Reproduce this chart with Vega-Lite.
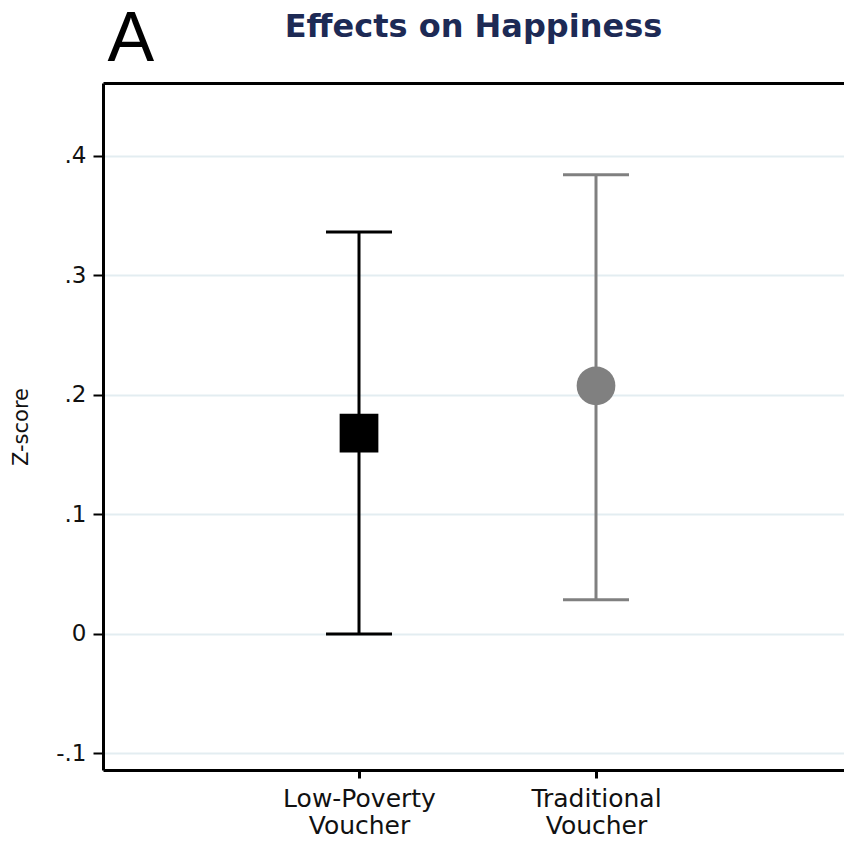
{
  "$schema": "https://vega.github.io/schema/vega-lite/v6.json",
  "autosize": {"type": "none"},
  "width": 741,
  "height": 687,
  "padding": {"left": 103, "top": 83, "right": 0, "bottom": 71},
  "background": "white",
  "config": {"view": {"stroke": null}, "font": "DejaVu Sans"},
  "title": {
    "text": "Effects on Happiness",
    "fontSize": 32,
    "fontWeight": "bold",
    "color": "#1d2a55",
    "anchor": "middle",
    "frame": "group",
    "offset": -40
  },
  "data": {
    "values": [
      {"group": "Low-Poverty Voucher", "pos": 1, "estimate": 0.168, "lower": 0.0, "upper": 0.336},
      {"group": "Traditional Voucher", "pos": 2, "estimate": 0.2075, "lower": 0.0285, "upper": 0.384}
    ]
  },
  "resolve": {"axis": {"x": "independent"}},
  "encoding": {
    "color": {
      "field": "group",
      "type": "nominal",
      "scale": {"domain": ["Low-Poverty Voucher", "Traditional Voucher"], "range": ["#000000", "#808080"]},
      "legend": null
    }
  },
  "layer": [
    {
      "mark": {"type": "rule", "strokeWidth": 3},
      "encoding": {
        "x": {
          "field": "pos",
          "type": "quantitative",
          "scale": {"domain": [-0.0802, 3.0464], "nice": false, "zero": false},
          "axis": {
            "orient": "bottom",
            "values": [1, 2],
            "labelExpr": "datum.value == 1 ? ['Low-Poverty', 'Voucher'] : ['Traditional', 'Voucher']",
            "title": null,
            "grid": false,
            "domainColor": "#000000",
            "domainWidth": 3,
            "tickColor": "#000000",
            "tickWidth": 3,
            "tickSize": 8,
            "labelFontSize": 25,
            "labelLineHeight": 27,
            "labelColor": "#111111",
            "labelPadding": 8
          }
        },
        "y": {
          "field": "lower",
          "type": "quantitative",
          "scale": {"domain": [-0.1138, 0.4607], "nice": false, "zero": false},
          "axis": {
            "values": [-0.1, 0, 0.1, 0.2, 0.3, 0.4],
            "labelExpr": "datum.value == 0 ? '0' : (datum.value < 0 ? '-' : '') + '.' + toString(round(abs(datum.value) * 10))",
            "title": "Z-score",
            "titleFontSize": 21,
            "titleFontWeight": "normal",
            "titleColor": "#111111",
            "titlePadding": 24,
            "grid": true,
            "gridColor": "#e3edf1",
            "gridWidth": 2,
            "domainColor": "#000000",
            "domainWidth": 3,
            "tickColor": "#000000",
            "tickWidth": 2,
            "tickSize": 10,
            "labelFontSize": 23,
            "labelColor": "#111111",
            "labelPadding": 7
          }
        },
        "y2": {"field": "upper"}
      }
    },
    {
      "mark": {"type": "tick", "orient": "horizontal", "size": 66, "thickness": 3, "opacity": 1},
      "encoding": {
        "x": {"field": "pos", "type": "quantitative", "axis": null},
        "y": {"field": "upper", "type": "quantitative"}
      }
    },
    {
      "mark": {"type": "tick", "orient": "horizontal", "size": 66, "thickness": 3, "opacity": 1},
      "encoding": {
        "x": {"field": "pos", "type": "quantitative", "axis": null},
        "y": {"field": "lower", "type": "quantitative"}
      }
    },
    {
      "mark": {"type": "point", "filled": true, "opacity": 1, "size": 1500},
      "encoding": {
        "x": {
          "field": "pos",
          "type": "quantitative",
          "axis": {
            "orient": "top",
            "labels": false,
            "ticks": false,
            "grid": false,
            "domainColor": "#000000",
            "domainWidth": 3,
            "title": "A",
            "titleFont": "Liberation Sans",
            "titleFontSize": 70,
            "titleFontWeight": "normal",
            "titleColor": "#000000",
            "titleAnchor": "start",
            "titleBaseline": "alphabetic",
            "titlePadding": 23,
            "titleX": 4
          }
        },
        "y": {"field": "estimate", "type": "quantitative"},
        "shape": {
          "field": "group",
          "type": "nominal",
          "scale": {"domain": ["Low-Poverty Voucher", "Traditional Voucher"], "range": ["square", "circle"]},
          "legend": null
        }
      }
    }
  ]
}
